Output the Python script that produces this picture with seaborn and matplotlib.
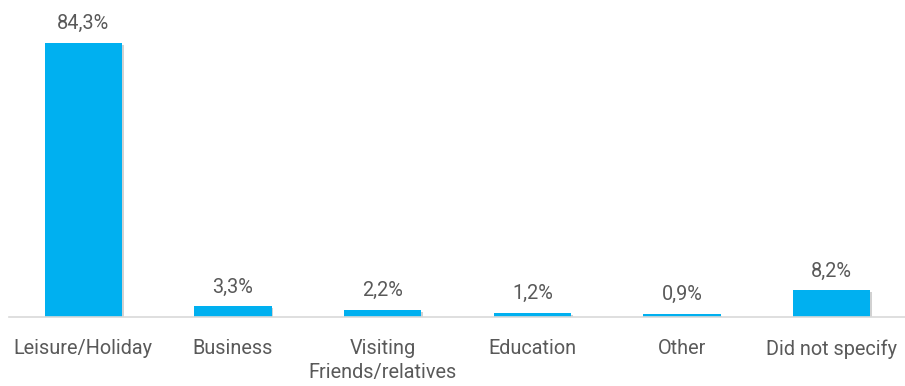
import matplotlib
matplotlib.use("Agg")
import matplotlib.pyplot as plt
import matplotlib.patheffects as pe
import seaborn as sns
import pandas as pd

# Purpose of visit, share of respondents (%)
categories = ["Leisure/Holiday", "Business", "Visiting\nFriends/relatives",
              "Education", "Other", "Did not specify"]
shares = [84.3, 3.3, 2.2, 1.2, 0.9, 8.2]
value_labels = ["84,3%", "3,3%", "2,2%", "1,2%", "0,9%", "8,2%"]

df = pd.DataFrame({"purpose": categories, "share": shares})

sns.set_theme(style="white")
plt.rcParams["font.family"] = ["Roboto", "DejaVu Sans"]

text_color = "#595959"
bar_color = "#00B0F0"

fig = plt.figure(figsize=(9.05, 3.86), dpi=100)
ax = fig.add_axes([8.5 / 905, 69 / 386, 898 / 905, 312 / 386])

sns.barplot(data=df, x="purpose", y="share", color=bar_color, width=0.515,
            saturation=1, ax=ax)

for patch in ax.patches:
    patch.set_edgecolor("none")
    patch.set_path_effects([
        pe.SimplePatchShadow(offset=(1.2, -1.2), shadow_rgbFace="#000000", alpha=0.18),
        pe.Normal(),
    ])

for i, (v, lab) in enumerate(zip(shares, value_labels)):
    ax.annotate(lab, xy=(i, v), xytext=(0, 7), textcoords="offset points",
                ha="center", va="bottom", fontsize=14.3, color=text_color)

ax.set_xlim(-0.5, 5.5)
ax.set_ylim(0, 96)
ax.set_xlabel("")
ax.set_ylabel("")
ax.set_yticks([])
ax.tick_params(axis="x", length=0, pad=16, labelsize=14.3, labelcolor=text_color)
for lbl in ax.get_xticklabels():
    lbl.set_linespacing(1.3)

for side in ["top", "right", "left"]:
    ax.spines[side].set_visible(False)
ax.spines["bottom"].set_color("#d9d9d9")
ax.spines["bottom"].set_linewidth(1.2)

fig.savefig("out.png", dpi=100, facecolor="white")
